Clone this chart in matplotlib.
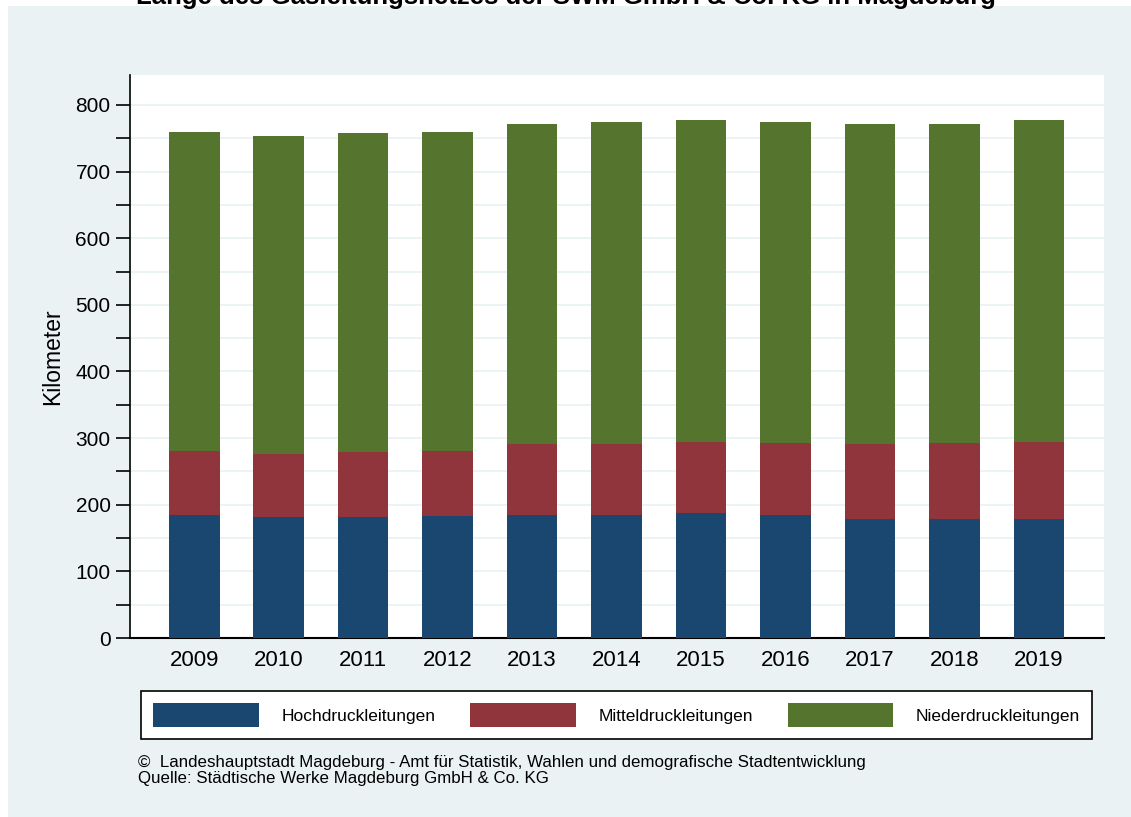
import matplotlib
matplotlib.use("Agg")
import matplotlib.pyplot as plt
import numpy as np
from matplotlib.patches import Rectangle

plt.rcParams['font.family'] = ['Liberation Sans', 'DejaVu Sans']

# data (km)
jahre = ['2009', '2010', '2011', '2012', '2013', '2014', '2015', '2016', '2017', '2018', '2019']
hoch = [185, 181, 182, 183, 185, 185, 187, 185, 179, 179, 179]
mittel_top = [280, 276, 279, 280, 291, 291, 294, 293, 291, 292, 294]
gesamt = [759, 754, 758, 760, 771, 774, 777, 774, 771, 772, 778]

hoch = np.array(hoch)
mittel = np.array(mittel_top) - hoch
nieder = np.array(gesamt) - np.array(mittel_top)

blau = '#1a476f'
rot = '#90353b'
gruen = '#55752f'
bg = '#eaf2f3'

W, H = 1131, 817
fig = plt.figure(figsize=(W / 100, H / 100), dpi=100, facecolor='white')

# light background panel
fig.patches.append(Rectangle((8 / W, 0), 1 - 8 / W, 1 - 6 / H, transform=fig.transFigure,
                             facecolor=bg, edgecolor='none', zorder=-10))

# title (cut off at top like the original)
fig.text(566 / W, 1 - 4 / H, 'Länge des Gasleitungsnetzes der SWM GmbH & Co. KG in Magdeburg',
         ha='center', va='baseline', fontsize=18.5, fontweight='bold')

ax = fig.add_axes([130 / W, 1 - 638 / H, (1104 - 130) / W, (638 - 75) / H])
ax.set_facecolor('white')
x = np.arange(len(jahre))
bw = 0.6
ax.bar(x, hoch, bw, color=blau, label='Hochdruckleitungen', zorder=3)
ax.bar(x, mittel, bw, bottom=hoch, color=rot, label='Mitteldruckleitungen', zorder=3)
ax.bar(x, nieder, bw, bottom=hoch + mittel, color=gruen, label='Niederdruckleitungen', zorder=3)

ax.set_xlim(-0.76, 10.77)
ax.set_ylim(0, 845)
ax.set_xticks(x)
ax.set_xticklabels(jahre, fontsize=16)
ax.set_yticks(range(0, 801, 100))
ax.set_yticks(range(50, 801, 100), minor=True)
ax.tick_params(axis='y', which='both', length=10, width=1.2, labelsize=15, pad=4)
ax.tick_params(axis='x', length=0, pad=9)
ax.grid(axis='y', which='both', color=bg, linewidth=1.3, zorder=0)
ax.set_axisbelow(True)
for s in ['top', 'right']:
    ax.spines[s].set_visible(False)
ax.spines['left'].set_linewidth(1.2)
ax.spines['bottom'].set_linewidth(1.5)
ax.set_ylabel('Kilometer', fontsize=16.5, labelpad=8)

leg = fig.legend(loc='center', bbox_to_anchor=((140 + 1093) / 2 / W, 1 - 715 / H),
                 ncol=3, fontsize=12.5, frameon=True, fancybox=False, framealpha=1,
                 facecolor='white', edgecolor='black', handlelength=6.1, handleheight=1.75,
                 handletextpad=1.3, columnspacing=2.0, borderaxespad=0, borderpad=0.7)
leg.get_frame().set_linewidth(1.2)

fig.text(138 / W, 1 - 762 / H,
         '©  Landeshauptstadt Magdeburg - Amt für Statistik, Wahlen und demografische Stadtentwicklung',
         fontsize=12.2, va='center')
fig.text(138 / W, 1 - 779 / H, 'Quelle: Städtische Werke Magdeburg GmbH & Co. KG',
         fontsize=12.2, va='center')

fig.savefig('out.png', dpi=100, facecolor='white')
